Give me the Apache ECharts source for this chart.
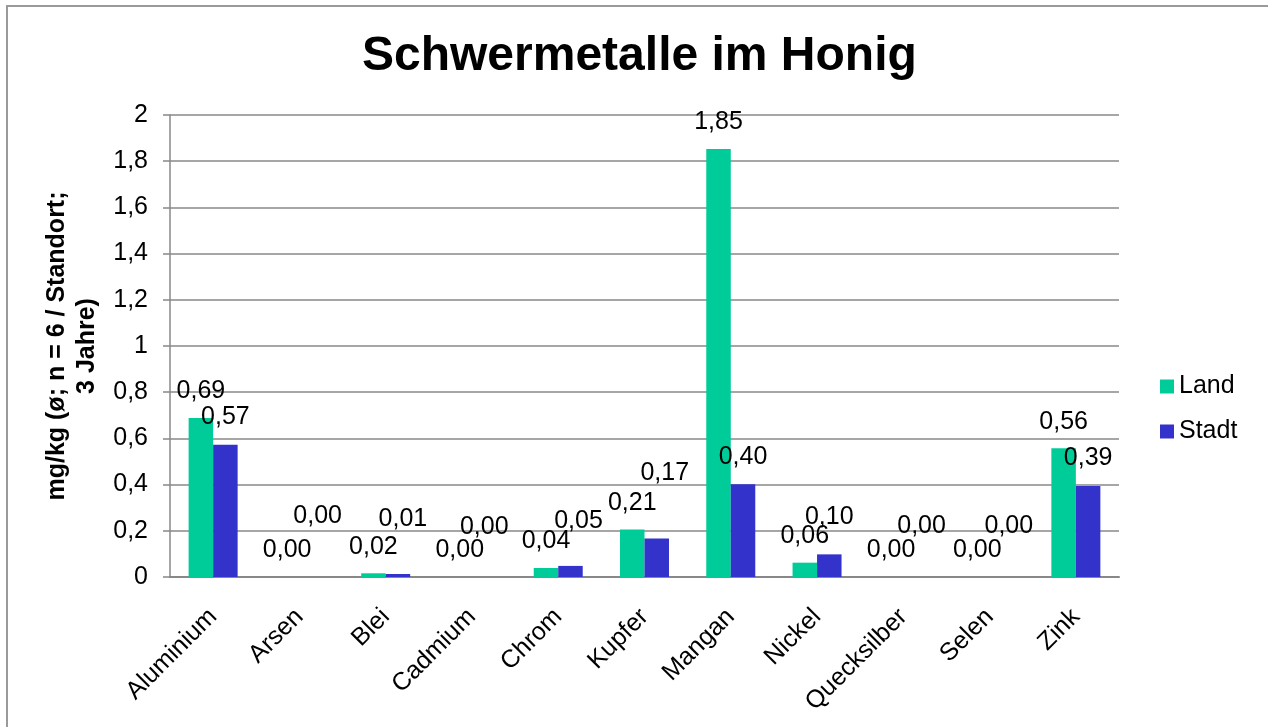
<!DOCTYPE html>
<html>
<head>
<meta charset="utf-8">
<script src="https://cdn.jsdelivr.net/npm/echarts@6/dist/echarts.min.js"></script>
<style>
html,body{margin:0;padding:0;background:#fff;}
#wrap{position:relative;width:1268px;height:727px;overflow:hidden;}
#frame{position:absolute;left:6px;top:5px;width:1300px;height:800px;border-left:2px solid #9a9a9a;border-top:2px solid #9a9a9a;box-sizing:border-box;}
#chart{position:absolute;left:0;top:0;width:1268px;height:727px;}
</style>
</head>
<body>
<div id="wrap"><div id="frame"></div><div id="chart"></div></div>
<script>
const categories = ['Aluminium','Arsen','Blei','Cadmium','Chrom','Kupfer','Mangan','Nickel','Quecksilber','Selen','Zink'];
const land  = [0.688, 0, 0.016, 0, 0.039, 0.206, 1.853, 0.062, 0, 0, 0.557];
const stadt = [0.573, 0, 0.013, 0, 0.048, 0.167, 0.401, 0.098, 0, 0, 0.394];
const seriesNames = ['Land','Stadt'];
const yTicks = [0, 0.2, 0.4, 0.6, 0.8, 1, 1.2, 1.4, 1.6, 1.8, 2];

// label placement tweaks (style only): [dx, distance]
const stadtLabelLayout = [[0,15],[6,48],[5,42],[0,37],[8,32],[8,53],[0,15],[0,25],[6,38],[7,38],[0,15]];

const fmt = v => v.toFixed(2).replace('.', ',');
const FONT = 'Liberation Sans, Arial, sans-serif';
const FS = 25;

const chart = echarts.init(document.getElementById('chart'));
chart.setOption({
  backgroundColor: 'transparent',
  animation: false,
  title: {
    text: 'Schwermetalle im Honig',
    left: 362,
    top: 33,
    padding: 0,
    textStyle: {fontFamily: FONT, fontSize: 48, fontWeight: 'bold', color: '#000'}
  },
  legend: {
    orient: 'vertical',
    left: 1160,
    top: 374,
    padding: 0,
    itemWidth: 14,
    itemHeight: 14,
    itemGap: 20,
    icon: 'rect',
    data: seriesNames,
    textStyle: {fontFamily: FONT, fontSize: FS, color: '#000'}
  },
  grid: {left: 170, right: 149, top: 115, bottom: 150, containLabel: false},
  xAxis: {
    type: 'category',
    data: categories,
    axisLine: {lineStyle: {color: '#888', width: 2}},
    axisTick: {show: false},
    axisLabel: {
      rotate: 45,
      margin: 36,
      interval: 0,
      fontFamily: FONT, fontSize: FS, color: '#000'
    }
  },
  yAxis: {
    type: 'value',
    min: 0, max: 2, interval: 0.2,
    name: 'mg/kg (ø; n = 6 / Standort;\n3 Jahre)',
    nameLocation: 'middle',
    nameRotate: 90,
    nameGap: 66,
    nameTextStyle: {fontFamily: FONT, fontSize: FS, fontWeight: 'bold', color: '#000', lineHeight: 30, align: 'center'},
    axisLine: {show: true, lineStyle: {color: '#888', width: 1.5}},
    axisTick: {show: true, inside: false, length: 7, lineStyle: {color: '#888', width: 1.5}},
    splitLine: {show: true, lineStyle: {color: '#888', width: 1.5}},
    axisLabel: {
      margin: 22,
      fontFamily: FONT, fontSize: FS, color: '#000',
      formatter: v => {
        const t = yTicks.find(x => Math.abs(x - v) < 1e-9);
        return String(+(t === undefined ? v : t).toFixed(1)).replace('.', ',');
      }
    }
  },
  series: [
    {
      name: seriesNames[0],
      type: 'bar',
      data: land,
      barWidth: 24.5,
      barGap: '0%',
      itemStyle: {color: '#00CC99'},
      label: {
        show: true, position: 'top', distance: 14,
        fontFamily: FONT, fontSize: FS, color: '#000',
        formatter: p => fmt(p.value)
      }
    },
    {
      name: seriesNames[1],
      type: 'bar',
      data: stadt.map((v, i) => ({
        value: v,
        label: {distance: stadtLabelLayout[i][1], offset: [stadtLabelLayout[i][0], 0]}
      })),
      barWidth: 24.5,
      barGap: '0%',
      itemStyle: {color: '#3333CC'},
      label: {
        show: true, position: 'top',
        fontFamily: FONT, fontSize: FS, color: '#000',
        formatter: p => fmt(p.value)
      }
    }
  ]
});
</script>
</body>
</html>
